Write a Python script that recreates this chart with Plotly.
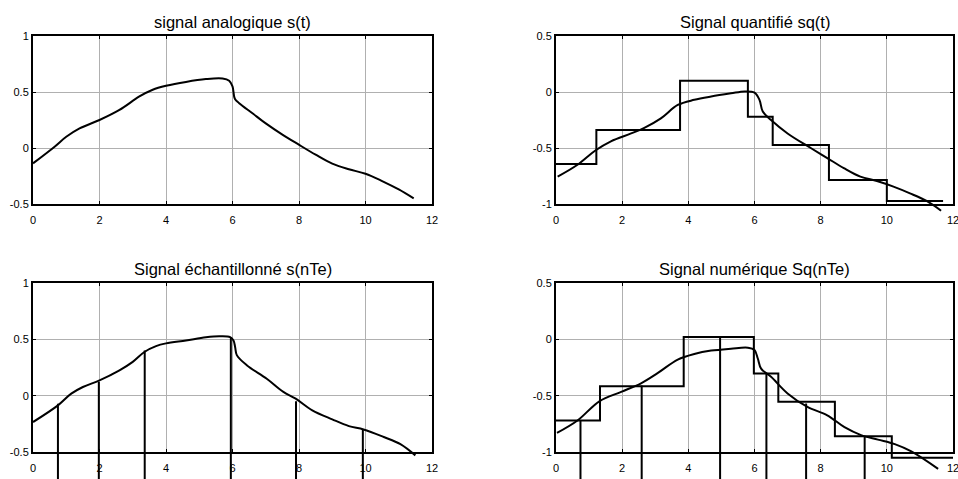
import plotly.graph_objects as go

# ---------------- data ----------------
# signal analogique s(t)
t_a = [0, 0.65, 1.0, 1.4, 2.0, 2.6, 3.2, 3.6, 4.0, 4.6, 5.2, 5.7, 5.9, 6.0, 6.07, 6.2,
       6.6, 7.0, 7.5, 7.96, 8.5, 9.0, 9.5, 10.0, 10.5, 11.0, 11.45]
s_a = [-0.137, 0.012, 0.10, 0.175, 0.25, 0.34, 0.46, 0.52, 0.555, 0.59, 0.615, 0.62, 0.60,
       0.55, 0.44, 0.40, 0.31, 0.22, 0.12, 0.036, -0.06, -0.14, -0.19, -0.23, -0.295, -0.37, -0.45]

# signal quantifié sq(t)
t_q = [0.05, 0.65, 1.2, 1.66, 2.27, 2.67, 3.17, 3.68, 4.18, 4.69, 5.29, 5.7, 6.0, 6.15, 6.25,
       6.5, 7.0, 7.7, 8.2, 8.7, 9.2, 9.7, 10.2, 10.7, 11.2, 11.64]
s_q = [-0.756, -0.65, -0.52, -0.44, -0.37, -0.32, -0.235, -0.116, -0.07, -0.04, -0.012, 0.005,
       -0.006, -0.07, -0.175, -0.25, -0.37, -0.50, -0.59, -0.68, -0.756, -0.795, -0.845, -0.905,
       -0.973, -1.06]
q_edges = [0, 1.22, 3.75, 5.8, 6.55, 8.25, 10.0, 11.7]
q_levels = [-0.643, -0.339, 0.101, -0.22, -0.473, -0.786, -0.973]

# signal échantillonné s(nTe)
t_e = [0, 0.75, 1.15, 1.5, 2.0, 2.6, 3.0, 3.36, 3.7, 4.0, 4.6, 5.2, 5.6, 5.93, 6.03, 6.08,
       6.13, 6.43, 7.03, 7.53, 7.9, 8.4, 9.0, 9.5, 9.94, 10.55, 11.05, 11.5]
s_e = [-0.234, -0.086, 0.018, 0.077, 0.136, 0.225, 0.30, 0.39, 0.44, 0.464, 0.49, 0.518, 0.527,
       0.52, 0.49, 0.43, 0.36, 0.27, 0.15, 0.033, -0.027, -0.13, -0.21, -0.27, -0.30, -0.367,
       -0.43, -0.53]
n_e = [0.75, 1.98, 3.36, 5.95, 7.91, 9.92]
v_e = [-0.071, 0.121, 0.40, 0.52, -0.05, -0.30]

# signal numérique Sq(nTe)
t_n = [0.03, 0.65, 1.31, 1.97, 2.57, 3.07, 3.68, 4.18, 4.69, 5.29, 5.8, 6.0, 6.1, 6.2, 6.5,
       7.0, 7.6, 8.2, 8.72, 9.22, 9.73, 10.24, 10.74, 11.55]
s_n = [-0.83, -0.72, -0.55, -0.466, -0.39, -0.30, -0.18, -0.13, -0.10, -0.083, -0.074, -0.095,
       -0.17, -0.26, -0.333, -0.48, -0.60, -0.674, -0.78, -0.85, -0.89, -0.93, -0.995, -1.15]
n_edges = [0, 1.33, 3.86, 5.98, 6.72, 8.43, 10.15, 12.0]
n_levels = [-0.72, -0.416, 0.02, -0.303, -0.555, -0.861, -1.05]
n_n = [0.74, 2.59, 4.96, 6.36, 7.56, 9.33]
v_n = [-0.72, -0.41, 0.02, -0.303, -0.57, -0.86]

titles = ["signal analogique s(t)", "Signal quantifié sq(t)",
          "Signal échantillonné s(nTe)", "Signal numérique Sq(nTe)"]
x_ticks = [0, 2, 4, 6, 8, 10, 12]
y_ticks_left = [-0.5, 0, 0.5, 1]
y_ticks_right = [-1, -0.5, 0, 0.5]
STEM_BASE = -5

# ---------------- layout geometry ----------------
W, H = 958, 479
panels = [
    dict(box=(33, 432, 36, 204), yr=(-0.5, 1), yt=y_ticks_left, ext=(5, 14)),
    dict(box=(556, 953, 36, 204), yr=(-1, 0.5), yt=y_ticks_right, ext=(5, 14)),
    dict(box=(33, 432, 283, 452), yr=(-0.5, 1), yt=y_ticks_left, ext=(5, 40)),
    dict(box=(556, 953, 283, 452), yr=(-1, 0.5), yt=y_ticks_right, ext=(5, 40)),
]
XR = (0, 12)

FONT = "Liberation Sans, Arial, sans-serif"
LINE = dict(color="black", width=2)

fig = go.Figure()
layout = dict(width=W, height=H, autosize=False,
              margin=dict(l=0, r=0, t=0, b=0, pad=0, autoexpand=False),
              paper_bgcolor="white", plot_bgcolor="rgba(0,0,0,0)", showlegend=False,
              annotations=[])


def px2x(p):
    return max(0.0, min(1.0, p / W))


def px2y(p):
    return max(0.0, min(1.0, 1 - p / H))


for i, p in enumerate(panels):
    l, r, t, b = p["box"]
    n = i + 1
    h = i + 5
    xs = "" if n == 1 else str(n)
    common = dict(showgrid=True, gridcolor="#b0b0b0", gridwidth=1, zeroline=False,
                  showline=True, linecolor="black", linewidth=2, mirror="ticks",
                  ticks="inside", ticklen=3, tickcolor="black", tickwidth=1,
                  tickfont=dict(family=FONT, size=11, color="black"),
                  ticklabeloverflow="allow",
                  fixedrange=True, automargin=False)
    layout[f"xaxis{xs}"] = dict(
        domain=[px2x(l), px2x(r)], range=list(XR), anchor=f"y{xs}",
        tickvals=x_ticks, ticktext=[str(v) for v in x_ticks],
        ticklabelstandoff=5, **common)
    layout[f"yaxis{xs}"] = dict(
        domain=[px2y(b), px2y(t)], range=list(p["yr"]), anchor=f"x{xs}",
        tickvals=p["yt"], ticktext=[f"{v:g}" for v in p["yt"]], **common)
    # invisible anchor trace so the framed subplot is drawn
    fig.add_trace(go.Scatter(x=[XR[0]], y=[p["yr"][0]], mode="markers",
                             marker=dict(opacity=0), xaxis=f"x{xs}", yaxis=f"y{xs}",
                             hoverinfo="skip"))
    # hidden, slightly larger axes with the same scale (data may overflow the box)
    er, eb = p["ext"]
    r2 = min(W, r + er)
    b2 = min(H, b + eb)
    y0, y1 = p["yr"]
    xr2 = XR[1] + (XR[1] - XR[0]) * (r2 - r) / (r - l)
    yr2 = y0 - (y1 - y0) * (b2 - b) / (b - t)
    layout[f"xaxis{h}"] = dict(domain=[px2x(l), r2 / W], range=[XR[0], xr2],
                               anchor=f"y{h}", visible=False, fixedrange=True,
                               automargin=False)
    layout[f"yaxis{h}"] = dict(domain=[1 - b2 / H, px2y(t)], range=[yr2, y1],
                               anchor=f"x{h}", visible=False, fixedrange=True,
                               automargin=False)
    layout["annotations"].append(dict(
        text=titles[i], xref="paper", yref="paper", x=(l + r) / 2 / W, y=px2y(t),
        xanchor="center", yanchor="bottom", yshift=3, showarrow=False,
        font=dict(family=FONT, size=16.5, color="black")))


def add(x, y, panel, shape="linear"):
    h = panel + 4
    fig.add_trace(go.Scatter(x=x, y=y, mode="lines", line=dict(LINE, shape=shape),
                             xaxis=f"x{h}", yaxis=f"y{h}", hoverinfo="skip"))


def stems(xs, vs, panel):
    sx, sy = [], []
    for x, v in zip(xs, vs):
        sx += [x, x, None]
        sy += [v, STEM_BASE, None]
    add(sx, sy, panel)


add(t_a, s_a, 1, "spline")
add(q_edges, q_levels + [q_levels[-1]], 2, "hv")
add(t_q, s_q, 2, "spline")
add(t_e, s_e, 3, "spline")
stems(n_e, v_e, 3)
add(n_edges, n_levels + [n_levels[-1]], 4, "hv")
add(t_n, s_n, 4, "spline")
stems(n_n, v_n, 4)

fig.update_layout(**layout)
fig.write_html("out.html")
